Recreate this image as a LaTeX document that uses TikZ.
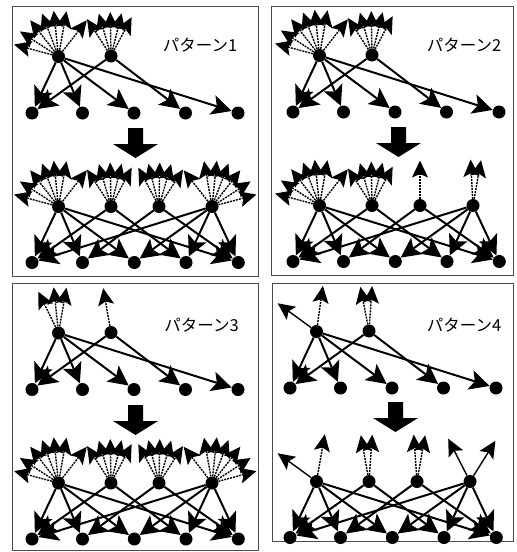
\documentclass[tikz,border=0pt]{standalone}
\usepackage{fontspec}
\newfontfamily\jpfont{Noto Sans CJK JP}
\usetikzlibrary{arrows.meta,calc}
\tikzset{
  dot/.style={circle,fill=black,inner sep=0pt,minimum size=13pt},
  link/.style={line width=2pt,-{Stealth[length=20pt,width=20pt,inset=4.5pt]}},
  fanline/.style={line width=1.4pt,dash pattern=on 2pt off 1pt,-{Stealth[length=17pt,width=16pt,inset=3.5pt]}},
  solidfan/.style={line width=1.4pt,-{Stealth[length=17pt,width=16pt,inset=3.5pt]}},
  frame/.style={draw=black!70,line width=0.9pt},
  title/.style={font=\jpfont\fontsize{16.5}{16.5}\selectfont},
}
\newcommand\uppernodes[3]{%
  \begin{scope}[shift={(#2,#3)}]
    \node[dot] (#1A) at (46,50) {};
    \node[dot] (#1B) at (98.5,49.5) {};
    \foreach \i/\x in {1/19.5,2/70,3/121.5,4/173,5/225.5} \node[dot] (#1b\i) at (\x,106.5) {};
  \end{scope}
  \foreach \t in {1,2,3,5} \draw[link] (#1A) -- (#1b\t);
  \foreach \t in {1,4} \draw[link] (#1B) -- (#1b\t);
}
\newcommand\lowernodes[3]{%
  \begin{scope}[shift={(#2,#3)}]
    \foreach \i/\x in {1/46,2/98.5,3/146.5,4/199.5} \node[dot] (#1n\i) at (\x,200) {};
    \foreach \i/\x in {1/19.5,2/70,3/121.8,4/173.5,5/225.8} \node[dot] (#1c\i) at (\x,256) {};
  \end{scope}
  \foreach \s/\t in {1/1,1/2,1/3,1/5,2/1,2/4,3/2,3/5,4/1,4/3,4/4,4/5} \draw[link] (#1n\s) -- (#1c\t);
}
\newcommand\fanout[4]{%
  \foreach \a in {#4} {%
    \path (#1) ++({#3*cos(\a)},{-#3*sin(\a)}) coordinate (#1t\a);
    \draw[#2] (#1) -- (#1t\a);
  }%
}
\newcommand\bigarrow[3]{% x center, top y, name
  \fill (#1-7.5,#2) -- (#1+7.5,#2) -- (#1+7.5,#2+16) -- (#1+22.5,#2+16) -- (#1,#2+30)
        -- (#1-22.5,#2+16) -- (#1-7.5,#2+16) -- cycle;
}
\begin{document}
\begin{tikzpicture}[x=1pt,y=-1pt]
\useasboundingbox (0,0) rectangle (517,552);
\fill[white] (0,0) rectangle (517,552);
% frames
\draw[frame] (12.5,6.5) rectangle (258,276);
\draw[frame] (271,6.5) rectangle (513,275.5);
\draw[frame] (12.5,283) rectangle (258,550.5);
\draw[frame] (272,283) rectangle (513,541);
% titles
\node[title] (t1) at (200,45) {パターン1};
\node[title] (t2) at (464,45) {パターン2};
\node[title] (t3) at (201.5,325) {パターン3};
\node[title] (t4) at (464,325) {パターン4};
% big arrows
\bigarrow{135.5}{128}{a1}
\bigarrow{398.5}{127}{a2}
\bigarrow{135.5}{405}{a3}
\bigarrow{395.5}{402}{a4}
% ---------- panel 1
\uppernodes{p1}{12.5}{6.5}
\fanout{p1A}{fanline}{46}{165,147,128,111,96,80,52}
\fanout{p1B}{fanline}{44}{123,106,91,76,62}
\lowernodes{p1}{12.5}{6.5}
\fanout{p1n1}{fanline}{46}{165,147,128,111,96,80,52}
\fanout{p1n2}{fanline}{44}{123,106,91,76,62}
\fanout{p1n3}{fanline}{44}{57,74,89,104,118}
\fanout{p1n4}{fanline}{46}{15,33,52,69,84,100,128}
% ---------- panel 2
\uppernodes{p2}{273.5}{5.5}
\fanout{p2A}{fanline}{46}{165,147,128,111,96,80,52}
\fanout{p2B}{fanline}{44}{123,106,91,76,62}
\lowernodes{p2}{273.5}{5.5}
\fanout{p2n1}{fanline}{46}{165,147,128,111,96,80,52}
\fanout{p2n2}{fanline}{44}{123,106,91,76,62}
\fanout{p2n3}{fanline}{45}{90}
\fanout{p2n4}{fanline}{46}{93,80}
% ---------- panel 3
\uppernodes{p3}{12.5}{283}
\fanout{p3A}{fanline}{46}{116,96,80}
\fanout{p3B}{fanline}{45}{100}
\lowernodes{p3}{12.5}{283}
\fanout{p3n1}{fanline}{46}{165,147,128,111,96,80,52}
\fanout{p3n2}{fanline}{44}{123,106,91,76,62}
\fanout{p3n3}{fanline}{44}{57,74,89,104,118}
\fanout{p3n4}{fanline}{46}{15,33,52,69,84,100,128}
% ---------- panel 4
\uppernodes{p4}{270.5}{281.5}
\fanout{p4A}{solidfan}{48}{144}
\fanout{p4A}{fanline}{46}{82}
\fanout{p4B}{fanline}{45}{101,86}
\lowernodes{p4}{270.5}{281.5}
\fanout{p4n1}{solidfan}{48}{144}
\fanout{p4n1}{fanline}{48}{80}
\fanout{p4n2}{fanline}{47}{100,86}
\fanout{p4n3}{fanline}{47}{94,80}
\fanout{p4n4}{solidfan}{48}{117,58}
\end{tikzpicture}
\end{document}
